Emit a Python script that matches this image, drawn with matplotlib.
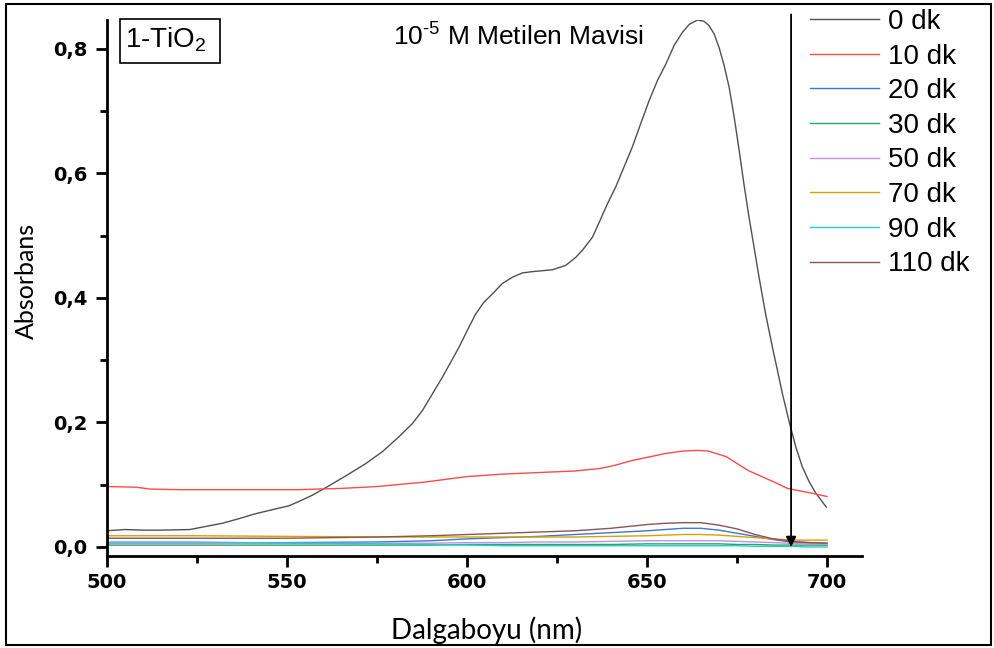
import matplotlib
matplotlib.use("Agg")
import matplotlib.pyplot as plt
from matplotlib.patches import Rectangle
from matplotlib.ticker import MultipleLocator, FuncFormatter

plt.rcParams['mathtext.fontset'] = 'custom'
plt.rcParams['mathtext.rm'] = 'Liberation Sans'
plt.rcParams['mathtext.it'] = 'Liberation Sans'

# 0 dk spectrum
wl_0 = [500, 505, 510, 515, 523, 532, 537, 541, 546, 550.5, 553.3, 557.0, 560.7,
        566.3, 571.9, 576.5, 581.1, 584.8, 587.6, 590.4, 593.1, 595.5, 597.8,
        600.1, 602.4, 604.7, 607.0, 609.8, 612.6, 615.4, 618.1, 623.7, 627.4,
        630.2, 632.0, 634.8, 636.7, 639.0, 641.3, 643.6, 645.9, 648.2, 650.6,
        652.9, 655.2, 657.5, 659.8, 661.7, 664.0, 665.8, 667.2, 668.6, 670.0,
        671.4, 672.8, 674.2, 675.6, 676.9, 678.3, 679.7, 681.1, 682.9, 684.8,
        686.2, 687.6, 689.6, 691.3, 693.1, 695.0, 696.9, 699.8]
abs_0 = [0.026, 0.028, 0.027, 0.027, 0.028, 0.038, 0.046, 0.053, 0.060, 0.066,
         0.073, 0.083, 0.095, 0.114, 0.134, 0.153, 0.177, 0.198, 0.219, 0.246,
         0.272, 0.297, 0.321, 0.348, 0.374, 0.393, 0.406, 0.423, 0.433, 0.440,
         0.442, 0.445, 0.452, 0.465, 0.476, 0.497, 0.521, 0.551, 0.578, 0.610,
         0.642, 0.679, 0.717, 0.749, 0.775, 0.805, 0.826, 0.839, 0.846, 0.844,
         0.837, 0.824, 0.802, 0.773, 0.738, 0.690, 0.636, 0.583, 0.530, 0.482,
         0.433, 0.375, 0.321, 0.284, 0.246, 0.198, 0.161, 0.129, 0.105, 0.086,
         0.064]

# 10 dk spectrum
wl_10 = [500, 508, 512, 520, 535, 553, 565, 575, 588, 600, 610, 618, 630, 637,
         641, 646, 651, 655, 660, 664, 667, 672, 678, 685, 689, 696, 700]
abs_10 = [0.097, 0.096, 0.093, 0.092, 0.092, 0.092, 0.094, 0.097, 0.104, 0.113,
          0.117, 0.119, 0.122, 0.126, 0.131, 0.139, 0.145, 0.150, 0.154, 0.155,
          0.154, 0.145, 0.123, 0.105, 0.094, 0.086, 0.081]

# later spectra share one wavelength grid
wl_low = [500, 525, 550, 575, 590, 600, 610, 620, 630, 640, 650, 655, 660, 665,
          670, 675, 680, 685, 690, 695, 700]
abs_20 = [0.006, 0.006, 0.007, 0.008, 0.010, 0.013, 0.015, 0.017, 0.020, 0.023,
          0.026, 0.028, 0.030, 0.030, 0.027, 0.022, 0.017, 0.012, 0.008, 0.007, 0.006]
abs_30 = [0.003, 0.003, 0.003, 0.003, 0.003, 0.004, 0.004, 0.004, 0.004, 0.004,
          0.005, 0.005, 0.005, 0.005, 0.005, 0.004, 0.004, 0.003, 0.003, 0.003, 0.003]
abs_50 = [0.005, 0.005, 0.006, 0.006, 0.006, 0.007, 0.007, 0.008, 0.008, 0.009,
          0.010, 0.010, 0.010, 0.010, 0.010, 0.009, 0.008, 0.007, 0.006, 0.005, 0.005]
abs_70 = [0.018, 0.018, 0.017, 0.016, 0.016, 0.016, 0.016, 0.016, 0.016, 0.017,
          0.018, 0.019, 0.020, 0.020, 0.019, 0.017, 0.015, 0.013, 0.011, 0.011, 0.011]
abs_90 = [0.008, 0.008, 0.006, 0.005, 0.004, 0.003, 0.002, 0.002, 0.002, 0.002,
          0.002, 0.002, 0.002, 0.002, 0.002, 0.002, 0.001, 0.001, 0.001, 0.000, 0.000]
abs_110 = [0.014, 0.014, 0.014, 0.016, 0.018, 0.020, 0.022, 0.024, 0.026, 0.030,
           0.036, 0.038, 0.039, 0.039, 0.035, 0.029, 0.020, 0.013, 0.009, 0.007, 0.006]

labels = ['0 dk', '10 dk', '20 dk', '30 dk', '50 dk', '70 dk', '90 dk', '110 dk']
colors = ['#505050', '#ff4a4a', '#3a78d6', '#22a860', '#c38fe0', '#d9a000',
          '#25cccc', '#8a5454']

series = [(wl_0, abs_0), (wl_10, abs_10), (wl_low, abs_20), (wl_low, abs_30),
          (wl_low, abs_50), (wl_low, abs_70), (wl_low, abs_90), (wl_low, abs_110)]

W, H = 994, 648
fig = plt.figure(figsize=(W / 100, H / 100), dpi=100)
ax = fig.add_axes([107 / W, 1 - 556 / H, (862 - 107) / W, (556 - 20) / H])

handles = []
for (x, y), lab, c in zip(series, labels, colors):
    h, = ax.plot(x, y, color=c, lw=1.0, label=lab)
    handles.append(h)

ax.set_xlim(500, 709.7)
ax.set_ylim(-0.0145, 0.846)

for s in ('top', 'right'):
    ax.spines[s].set_visible(False)
for s in ('left', 'bottom'):
    ax.spines[s].set_linewidth(2)

ax.xaxis.set_major_locator(MultipleLocator(50))
ax.xaxis.set_minor_locator(MultipleLocator(25))
ax.yaxis.set_major_locator(MultipleLocator(0.2))
ax.yaxis.set_minor_locator(MultipleLocator(0.1))
ax.tick_params(which='major', direction='out', length=8, width=2)
ax.tick_params(which='minor', direction='out', length=5, width=2)
ax.tick_params(axis='x', labelsize=14, pad=4)
ax.tick_params(axis='y', labelsize=14, pad=6)
ax.yaxis.set_major_formatter(FuncFormatter(lambda v, p: f"{v:.1f}".replace('.', ',')))
ax.xaxis.set_major_formatter(FuncFormatter(lambda v, p: f"{v:.0f}"))
for lab in ax.get_xticklabels() + ax.get_yticklabels():
    lab.set_fontweight('bold')
    lab.set_family('DejaVu Sans')

ax.set_xlabel('Dalgaboyu (nm)', family='Lato', fontsize=20)
ax.set_ylabel('Absorbans', family='Lato', fontsize=18)
ax.xaxis.set_label_coords((487 - 107) / 755, (556 - 616) / 536)
ax.yaxis.set_label_coords((38 - 107) / 755, (556 - 281) / 536)

# degradation arrow at 690 nm
ax.annotate('', xy=(690, 0.0), xytext=(690, 0.855),
            arrowprops=dict(arrowstyle='-|>', color='black', lw=1.3,
                            mutation_scale=15, shrinkA=0, shrinkB=0),
            annotation_clip=False)

px = lambda x, y: (x / W, 1 - y / H)

fig.patches.append(Rectangle(px(120, 63), 100 / W, 44 / H, transform=fig.transFigure,
                             fill=False, ec='black', lw=1.2))
fig.text(*px(125, 47), r'1-TiO$_2$', family='Liberation Sans', fontsize=20,
         va='baseline', ha='left')
fig.text(*px(393, 46), r'10$^{\text{-}5}$ M Metilen Mavisi', family='Liberation Sans',
         fontsize=19, va='baseline', ha='left')

leg = ax.legend(handles=handles, loc='upper left', bbox_to_anchor=px(810, 9),
                bbox_transform=fig.transFigure, frameon=False,
                prop={'family': 'Liberation Sans', 'size': 20},
                handlelength=2.5, handletextpad=0.3, labelspacing=0.31,
                borderaxespad=0, borderpad=0)

fig.patches.append(Rectangle(px(6, 645), (991 - 6) / W, (645 - 4) / H,
                             transform=fig.transFigure, fill=False, ec='black',
                             lw=1.5))

fig.savefig('out.png', dpi=100)
